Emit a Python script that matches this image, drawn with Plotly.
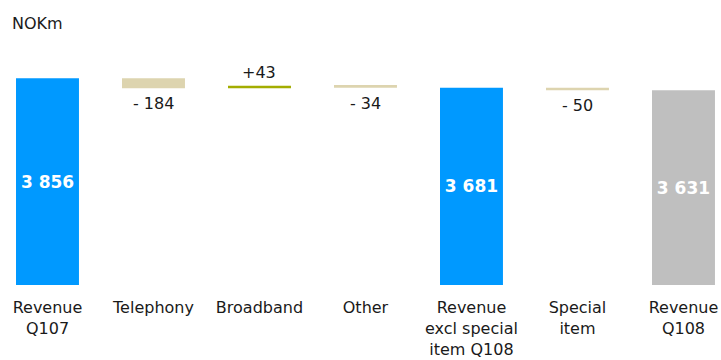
import plotly.graph_objects as go

categories = ["Revenue<br>Q107", "Telephony", "Broadband", "Other",
              "Revenue<br>excl special<br>item Q108", "Special<br>item", "Revenue<br>Q108"]
values = [3856, -184, 43, -34, 3681, -50, 3631]
kinds = ["total", "delta", "delta", "delta", "total", "delta", "total"]
inside_labels = ["3 856", "", "", "", "3 681", "", "3 631"]
delta_labels = ["", "- 184", "+43", "- 34", "", "- 50", ""]
total_colors = ["#0099FF", None, None, None, "#0099FF", None, "#BFBFBF"]

NEG = "#DDD4AF"
POS = "#A3AD00"
FONT = "DejaVu Sans"

xs = list(range(len(categories)))
bases, heights, colors = [], [], []
running = 0
for k, v, tc in zip(kinds, values, total_colors):
    if k == "total":
        bases.append(0)
        heights.append(v)
        colors.append(tc)
        running = v
    else:
        bases.append(running)
        heights.append(v)
        colors.append(POS if v > 0 else NEG)
        running += v

fig = go.Figure()
fig.add_trace(go.Bar(
    x=xs, y=heights, base=bases, width=0.594,
    marker=dict(color=colors, line=dict(width=0)),
    text=inside_labels, textposition="inside", insidetextanchor="middle",
    textfont=dict(family=FONT, size=17, color="white", weight="bold"),
    textangle=0, hoverinfo="skip", cliponaxis=False,
))

annotations = []
for x, b, h, lab in zip(xs, bases, heights, delta_labels):
    if not lab:
        continue
    end = b + h
    if h < 0:
        annotations.append(dict(x=x, y=end, xref="x", yref="y", text=lab, showarrow=False,
                                yanchor="top", yshift=-4,
                                font=dict(family=FONT, size=16, color="#1a1a1a")))
    else:
        annotations.append(dict(x=x, y=end, xref="x", yref="y", text=lab, showarrow=False,
                                yanchor="bottom", yshift=2,
                                font=dict(family=FONT, size=16, color="#1a1a1a")))

annotations.append(dict(x=10 / 721, y=1, xref="paper", yref="paper", text="NOKm",
                        showarrow=False, xanchor="left", yanchor="top", yshift=40 - 12,
                        font=dict(family=FONT, size=16, color="#1a1a1a")))

fig.update_layout(
    width=721, height=360,
    margin=dict(l=0, r=0, t=40, b=75),
    paper_bgcolor="white", plot_bgcolor="white",
    showlegend=False,
    annotations=annotations,
    xaxis=dict(range=[-0.448, 6.354], tickmode="array", tickvals=xs, ticktext=categories,
               showgrid=False, zeroline=False, showline=False,
               ticks="outside", ticklen=8, tickcolor="rgba(0,0,0,0)",
               tickfont=dict(family=FONT, size=16, color="#1a1a1a")),
    yaxis=dict(range=[0, 4570], visible=False, showgrid=False, zeroline=False),
    font=dict(family=FONT),
)

fig.write_html("out.html", config={"displayModeBar": False},
               post_script="document.body.style.margin='0';document.body.style.overflow='hidden';")
